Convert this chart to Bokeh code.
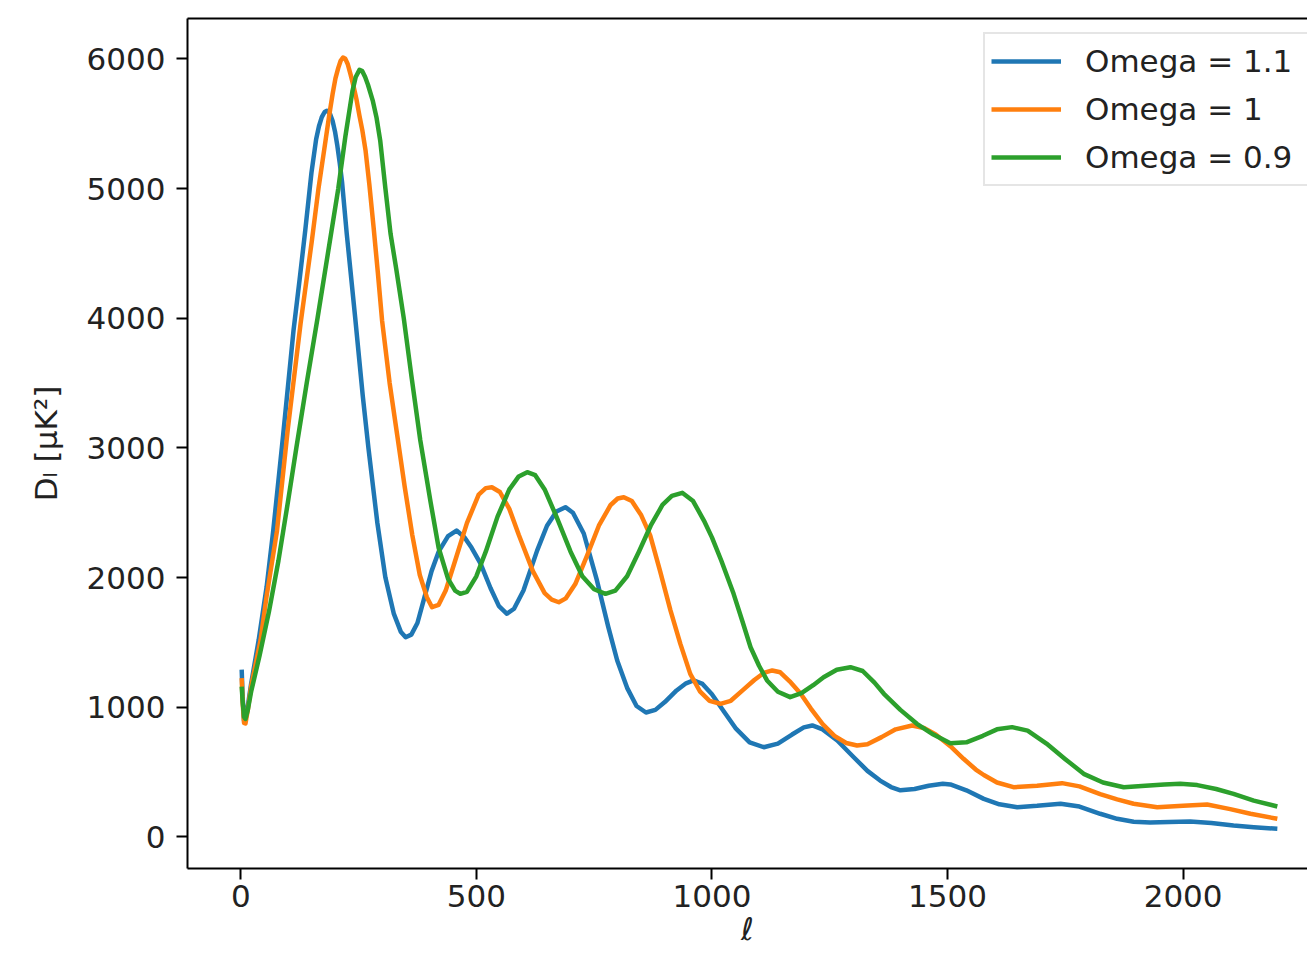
from bokeh.plotting import figure
from bokeh.models import Range1d, Legend, LegendItem, LinearAxis, FixedTicker
from bokeh.embed import file_html
from bokeh.resources import INLINE

# --- data ---
ell_11 = [2, 4, 7, 10, 15, 22, 38, 55, 69, 90, 112, 125, 137, 150, 160, 166, 172, 178, 183, 189,
          195, 200, 205, 210, 215, 225, 243, 259, 271, 290, 307, 325, 340, 350, 362, 375, 390, 405,
          420, 440, 458, 475, 490, 509, 530, 548, 565, 580, 600, 629, 650, 670, 689, 705, 728, 756,
          780, 799, 820, 840, 860, 880, 900, 925, 945, 961, 980, 1000, 1025, 1050, 1080, 1110, 1140,
          1170, 1195, 1213, 1235, 1266, 1301, 1330, 1357, 1380, 1400, 1430, 1460, 1490, 1506, 1540,
          1577, 1610, 1648, 1690, 1740, 1780, 1824, 1860, 1895, 1930, 1970, 2015, 2060, 2107, 2150,
          2200]
dl_11 = [1290, 1080, 895, 905, 1010, 1180, 1517, 1930, 2363, 3100, 3905, 4300, 4680, 5120, 5380,
         5480, 5550, 5590, 5600, 5580, 5520, 5440, 5330, 5200, 5050, 4650, 4000, 3400, 3000, 2420,
         2000, 1720, 1580, 1540, 1560, 1650, 1849, 2050, 2200, 2320, 2363, 2310, 2230, 2108, 1920,
         1780, 1721, 1760, 1900, 2208, 2400, 2510, 2543, 2500, 2340, 1978, 1620, 1361, 1150, 1010,
         960, 980, 1040, 1130, 1185, 1207, 1180, 1100, 970, 840, 730, 692, 720, 790, 845, 860, 830,
         744, 615, 510, 435, 385, 360, 370, 395, 410, 405, 360, 294, 252, 230, 240, 256, 235, 179,
         140, 118, 112, 115, 119, 108, 88, 75, 63]

ell_10 = [2, 4, 7, 10, 15, 22, 42, 55, 77, 100, 127, 151, 165, 180, 188, 195, 201, 207, 212, 217,
          222, 227, 233, 240, 246, 252, 258, 265, 273, 282, 291, 300, 316, 332, 348, 364, 380, 395,
          406, 420, 435, 455, 480, 505, 520, 533, 550, 570, 590, 620, 645, 660, 675, 690, 710, 735,
          760, 785, 800, 813, 830, 850, 869, 890, 912, 933, 954, 975, 995, 1018, 1040, 1065, 1090,
          1110, 1128, 1145, 1165, 1188, 1210, 1235, 1260, 1285, 1308, 1330, 1360, 1390, 1425, 1450,
          1475, 1506, 1534, 1560, 1577, 1605, 1640, 1690, 1743, 1780, 1824, 1860, 1895, 1945, 2000,
          2051, 2100, 2143, 2200]
dl_10 = [1225, 1040, 880, 875, 980, 1160, 1517, 1860, 2363, 3150, 3959, 4599, 5000, 5370, 5570,
         5730, 5850, 5930, 5985, 6010, 6000, 5960, 5880, 5780, 5680, 5560, 5450, 5290, 5030, 4700,
         4350, 3980, 3500, 3100, 2700, 2330, 2020, 1849, 1772, 1790, 1900, 2130, 2420, 2640, 2690,
         2697, 2660, 2530, 2330, 2050, 1880, 1830, 1810, 1840, 1950, 2170, 2400, 2560, 2610, 2620,
         2590, 2480, 2325, 2050, 1747, 1489, 1258, 1120, 1050, 1027, 1050, 1130, 1210, 1265, 1284,
         1270, 1200, 1106, 990, 870, 780, 725, 705, 715, 770, 830, 860, 840, 790, 700, 603, 520,
         478, 420, 384, 395, 415, 390, 331, 290, 256, 230, 240, 250, 215, 179, 140]

ell_09 = [2, 4, 7, 10, 15, 22, 40, 60, 80, 100, 118, 140, 163, 185, 207, 222, 237, 244, 252, 258,
          264, 270, 280, 288, 296, 307, 318, 330, 346, 362, 381, 403, 420, 440, 455, 466, 480, 500,
          520, 545, 570, 590, 608, 625, 645, 670, 700, 725, 750, 774, 795, 820, 845, 870, 895, 915,
          937, 960, 983, 1000, 1020, 1046, 1065, 1082, 1100, 1117, 1140, 1166, 1190, 1215, 1237,
          1265, 1294, 1320, 1345, 1365, 1400, 1435, 1470, 1506, 1540, 1575, 1605, 1637, 1670, 1710,
          1750, 1789, 1830, 1874, 1920, 1960, 1994, 2030, 2070, 2107, 2150, 2200]
dl_09 = [1160, 1050, 925, 910, 980, 1120, 1400, 1740, 2130, 2580, 3000, 3500, 4000, 4500, 5000,
         5400, 5750, 5860, 5915, 5905, 5860, 5800, 5680, 5550, 5370, 5000, 4650, 4380, 4000, 3560,
         3060, 2580, 2230, 1990, 1900, 1875, 1890, 2010, 2200, 2470, 2680, 2780, 2813, 2790, 2680,
         2470, 2200, 2010, 1910, 1875, 1900, 2010, 2200, 2400, 2560, 2630, 2654, 2590, 2440, 2310,
         2130, 1875, 1660, 1463, 1320, 1207, 1120, 1078, 1110, 1170, 1232, 1290, 1309, 1280, 1190,
         1104, 980, 873, 790, 722, 730, 780, 830, 847, 820, 720, 600, 487, 420, 384, 395, 405, 410,
         400, 370, 333, 280, 235]

series_labels = ["Omega = 1.1", "Omega = 1", "Omega = 0.9"]
series_colors = ["#1f77b4", "#ff7f0e", "#2ca02c"]
x_ticks = [0, 500, 1000, 1500, 2000]
y_ticks = [0, 1000, 2000, 3000, 4000, 5000, 6000]
x_label = "ℓ"
y_label = "Dₗ [μK²]"

FONT = "DejaVu Sans"
FS = "31px"
TXT = "#222222"

p = figure(width=1307, height=957, output_backend="svg", toolbar_location=None,
           x_range=Range1d(-113, 2264), y_range=Range1d(-243, 6311),
           min_border_left=187, min_border_right=0, min_border_top=18, min_border_bottom=89)
p.outline_line_color = None
p.xgrid.visible = False
p.ygrid.visible = False
p.background_fill_color = "white"
p.border_fill_color = "white"

renderers = []
for xs, ys, c in zip([ell_11, ell_10, ell_09], [dl_11, dl_10, dl_09], series_colors):
    r = p.line(xs, ys, line_color=c, line_width=4.5, line_join="round")
    renderers.append(r)

for ax in (p.xaxis[0], p.yaxis[0]):
    ax.axis_line_width = 2
    ax.axis_line_color = "black"
    ax.major_tick_line_width = 2
    ax.major_tick_line_color = "black"
    ax.major_tick_out = 11
    ax.major_tick_in = 0
    ax.minor_tick_line_color = None
    ax.major_label_text_font = FONT
    ax.major_label_text_font_size = FS
    ax.major_label_text_color = TXT
    ax.axis_label_text_font = FONT
    ax.axis_label_text_font_size = FS
    ax.axis_label_text_color = TXT

p.xaxis[0].ticker = FixedTicker(ticks=x_ticks)
p.yaxis[0].ticker = FixedTicker(ticks=y_ticks)
p.xaxis[0].major_label_standoff = 5
p.xaxis[0].axis_label = x_label
p.xaxis[0].axis_label_text_font_style = "italic"
p.xaxis[0].axis_label_standoff = 1
p.yaxis[0].major_label_standoff = 11
p.yaxis[0].axis_label = y_label
p.yaxis[0].axis_label_text_font_style = "normal"
p.yaxis[0].axis_label_standoff = 20

top = LinearAxis(ticker=FixedTicker(ticks=[]), axis_line_width=2, axis_line_color="black",
                 major_label_text_font_size="0px", major_tick_line_color=None,
                 minor_tick_line_color=None)
p.add_layout(top, "above")

legend = Legend(items=[LegendItem(label=l, renderers=[r]) for l, r in zip(series_labels, renderers)],
                location=(796, 682), margin=0, padding=6, spacing=6,
                glyph_width=70, glyph_height=42, label_height=42, label_width=218,
                label_standoff=24, label_text_font=FONT, label_text_font_size=FS,
                label_text_color=TXT, border_line_color="#cccccc", border_line_width=2,
                background_fill_alpha=0.8)
p.add_layout(legend)

open("out.html", "w").write(file_html(p, INLINE))
